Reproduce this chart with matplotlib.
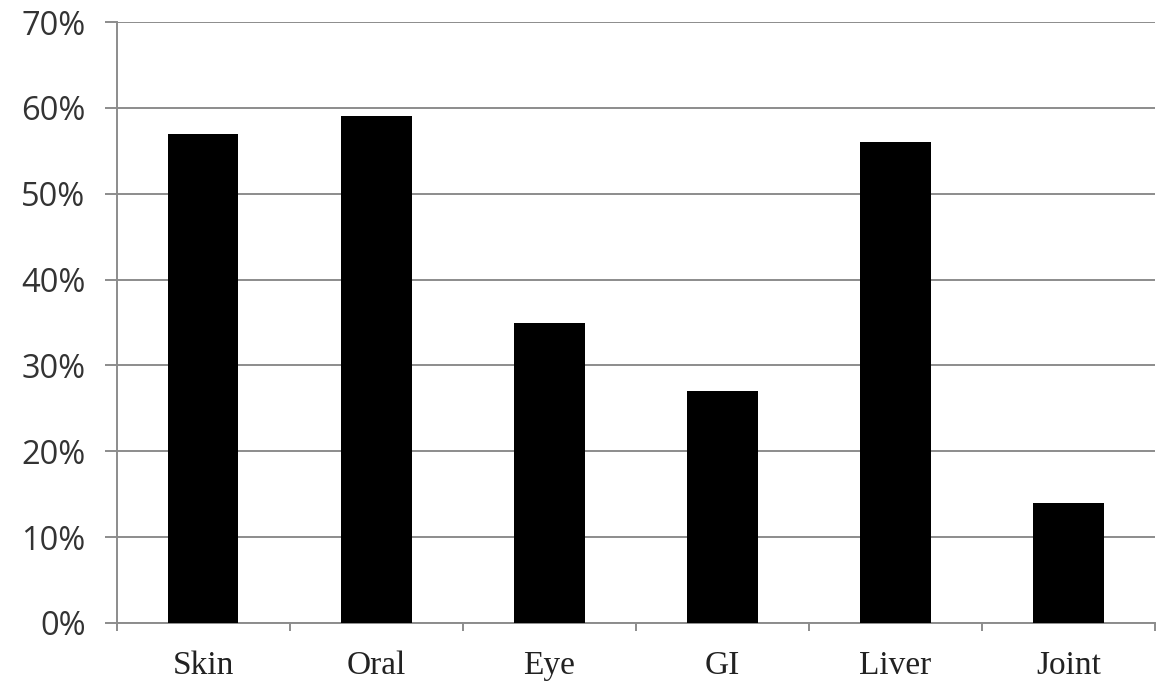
import matplotlib
matplotlib.use("Agg")
import matplotlib.pyplot as plt
from matplotlib.ticker import FuncFormatter, FixedLocator

categories = ["Skin", "Oral", "Eye", "GI", "Liver", "Joint"]
values = [57, 59, 35, 27, 56, 14]
yticks = [0, 10, 20, 30, 40, 50, 60, 70]

fig = plt.figure(figsize=(11.66, 6.84), dpi=100)
ax = fig.add_axes([0.1003, 0.0892, 0.8903, 0.8786])

x = list(range(len(categories)))
ax.bar(x, values, width=0.405, color="black", zorder=3)

ax.set_xlim(-0.5, len(categories) - 0.5)
ax.set_ylim(0, 70)
ax.set_yticks(yticks)
ax.yaxis.set_major_formatter(FuncFormatter(lambda v, p: f"{int(v)}%"))
ax.grid(axis="y", color="#8c8c8c", linewidth=1.4, zorder=0)
ax.set_axisbelow(True)

for s in ["top", "right"]:
    ax.spines[s].set_visible(False)
for s in ["left", "bottom"]:
    ax.spines[s].set_color("#8c8c8c")
    ax.spines[s].set_linewidth(1.4)

ax.tick_params(axis="y", length=8.6, width=1.4, color="#8c8c8c", pad=14,
               labelsize=23.5, labelcolor="#333333")
for lab in ax.get_yticklabels():
    lab.set_family(["Open Sans", "DejaVu Sans"])

ax.set_xticks(x)
ax.set_xticklabels(categories, family=["Liberation Serif", "DejaVu Serif"],
                   fontsize=24, color="#222222")
ax.tick_params(axis="x", length=0, pad=20)
ax.xaxis.set_minor_locator(FixedLocator([i - 0.5 for i in range(len(categories) + 1)]))
ax.tick_params(axis="x", which="minor", length=6, width=1.4, color="#8c8c8c")

fig.savefig("out.png", dpi=100)
